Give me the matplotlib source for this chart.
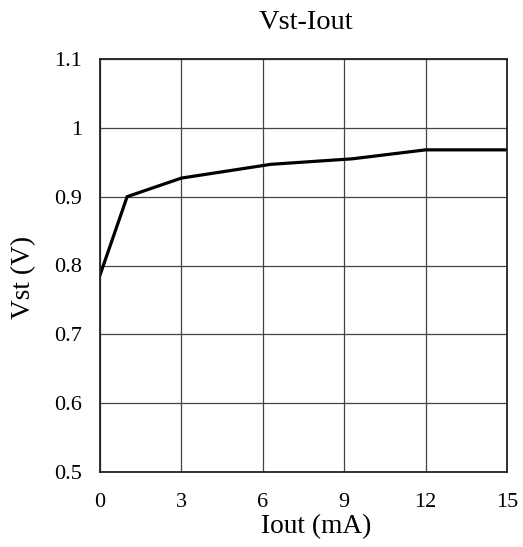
import matplotlib
matplotlib.use("Agg")
import matplotlib.pyplot as plt

iout = [0, 1, 3, 6.3, 9.3, 12, 15]
vst = [0.786, 0.900, 0.927, 0.947, 0.955, 0.968, 0.968]
xticks = [0, 3, 6, 9, 12, 15]
yticks = [0.5, 0.6, 0.7, 0.8, 0.9, 1.0, 1.1]
ytick_labels = ["0.5", "0.6", "0.7", "0.8", "0.9", "1", "1.1"]

plt.rcParams['font.family'] = ['Liberation Serif', 'DejaVu Serif']

fig = plt.figure(figsize=(5.23, 5.47), dpi=100)
ax = fig.add_axes([100/523, 1 - 472/547, 407/523, 413/547])
ax.plot(iout, vst, color='black', linewidth=2.3, solid_joinstyle='miter')
ax.set_xlim(0, 15)
ax.set_ylim(0.5, 1.1)
ax.set_xticks(xticks)
ax.set_yticks(yticks)
ax.set_yticklabels(ytick_labels)
ax.grid(True, color='#444444', linewidth=0.9)
ax.tick_params(length=0, labelsize=16, colors='black')
ax.tick_params(axis='x', pad=15)
ax.tick_params(axis='y', pad=13)
for s in ax.spines.values():
    s.set_linewidth(1.3)
    s.set_color('#222222')
ax.set_xlabel("Iout (mA)", fontsize=19.7)
ax.xaxis.set_label_coords(0.532, -0.102)
ax.set_ylabel("Vst (V)", fontsize=19.7)
ax.yaxis.set_label_coords(-0.158, 0.47)
ax.text(0.506, 1.072, "Vst-Iout", fontsize=20.5, ha='center', va='baseline',
        transform=ax.transAxes)
fig.savefig("out.png", dpi=100)
